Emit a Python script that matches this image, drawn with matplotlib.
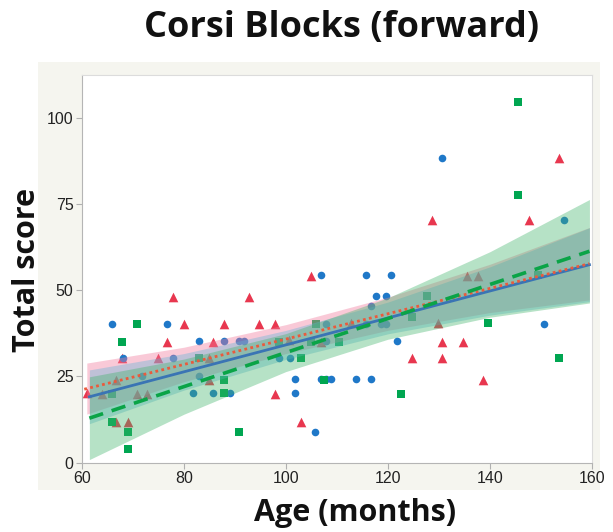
import numpy as np
import matplotlib
matplotlib.use("Agg")
import matplotlib.pyplot as plt
from matplotlib.patches import Rectangle

# ---------------------------------------------------------------------------
# Data
# ---------------------------------------------------------------------------

red_x = [61.0, 63.9, 77.9, 80.0, 76.7, 74.9, 70.9, 72.8, 67.8, 66.8, 66.8, 69.0,
         85.7, 84.9, 84.9, 87.8, 92.8, 94.8, 97.9, 97.9, 100.6, 102.9, 104.9, 106.8,
         135.6, 137.7, 112.7, 129.8, 130.6, 134.8, 124.8, 130.6, 138.7,
         128.7, 147.6, 153.5]
red_y = [20.1, 19.9, 48.1, 40.2, 35.1, 30.3, 19.9, 19.9, 30.3, 24.0, 11.9, 11.9,
         35.1, 30.3, 24.0, 40.2, 48.1, 40.2, 40.2, 19.9, 35.6, 11.9, 54.1, 35.1,
         54.1, 54.1, 40.5, 40.5, 35.1, 35.1, 30.3, 30.3, 24.0,
         70.3, 70.3, 88.2]

blue_x = [65.9, 68.1, 71.9, 76.7, 77.9, 82.9, 82.9, 81.8, 85.8, 87.8, 89.0, 90.9,
          91.9, 98.7, 100.8, 101.8, 101.8, 105.7, 106.8, 107.8, 107.8, 106.8, 107.8,
          108.8, 115.7, 120.7, 117.7, 119.7, 116.7, 115.7, 118.7, 119.7, 121.7,
          150.6, 113.7, 116.7, 130.7, 154.5]
blue_y = [40.2, 30.3, 25.1, 40.2, 30.3, 35.3, 25.1, 20.1, 20.1, 35.3, 20.1, 35.3,
          35.3, 30.3, 30.3, 24.2, 20.1, 9.0, 54.4, 40.2, 35.3, 24.2, 24.2,
          24.2, 54.4, 54.4, 48.3, 48.3, 45.4, 40.2, 40.2, 40.2, 35.3,
          40.2, 24.2, 24.2, 88.4, 70.3]

green_x = [65.9, 65.9, 67.8, 69.0, 69.0, 70.9, 82.9, 87.8, 87.8, 90.9, 98.7, 102.9,
           104.9, 105.9, 107.5, 110.5, 127.6, 124.7, 122.6, 139.7, 153.5, 149.4,
           145.5, 145.5]
green_y = [19.9, 11.9, 35.1, 9.0, 4.0, 40.2, 30.3, 24.0, 20.1, 9.0, 35.1, 30.3,
           35.1, 40.2, 24.0, 35.1, 48.3, 42.1, 19.9, 40.5, 30.3, 54.4,
           104.6, 77.6]

# fitted lines (end points) and confidence band half-widths, as drawn
band_x = [61, 80, 100, 120, 140, 159.5]
red_line = ([60.5, 159.5], [21.3, 57.7])
blue_line = ([61.5, 159.5], [19.1, 57.4])
green_line = ([61.5, 159.5], [12.9, 61.3])
red_hw = [7.4, 5.0, 4.2, 4.8, 7.0, 10.5]
blue_hw = [7.8, 5.3, 4.2, 4.6, 7.0, 10.7]
green_hw = [12.0, 8.0, 5.5, 6.0, 9.5, 15.0]

x_ticks = [60, 80, 100, 120, 140, 160]
y_ticks = [0, 25, 50, 75, 100]

RED = "#e8374f"
BLUE = "#1f78c8"
GREEN = "#00a651"

# ---------------------------------------------------------------------------
# Figure
# ---------------------------------------------------------------------------

fig = plt.figure(figsize=(6.13, 5.32), dpi=100)
fig.patch.set_facecolor("white")
fig.patches.append(Rectangle((0.062, 0.079), 0.917, 0.804, transform=fig.transFigure,
                             facecolor="#f5f5ef", edgecolor="none", zorder=-10))

ax = fig.add_axes([0.1333, 0.1303, 0.8324, 0.7287])
ax.set_facecolor("white")
ax.set_zorder(1)

ax.scatter(red_x, red_y, marker="^", s=48, color=RED, linewidths=0, zorder=2)
ax.scatter(blue_x, blue_y, marker="o", s=30, color=BLUE, linewidths=0, zorder=2)
ax.scatter(green_x, green_y, marker="s", s=40, color=GREEN, linewidths=0, zorder=2)


def band(line, hw, color, alpha):
    lx, ly = line
    bx = np.clip(band_x, lx[0], lx[1])
    centre = np.interp(bx, lx, ly)
    ax.fill_between(bx, centre - np.array(hw), centre + np.array(hw),
                    color=color, alpha=alpha, linewidth=0, zorder=3)


band(red_line, red_hw, "#f27a9c", 0.4)
band(blue_line, blue_hw, "#62b4d8", 0.38)
band(green_line, green_hw, "#3fb36a", 0.38)

ax.plot(*blue_line, color="#3a74b4", lw=2, zorder=4)
ax.plot(*red_line, color="#ea5a3c", lw=2, ls=(0, (1, 1.2)), zorder=5)
ax.plot(*green_line, color="#0aa447", lw=2.6, ls=(0, (4, 2.5)), zorder=5)

ax.set_xlim(60, 160)
ax.set_ylim(0, 112.4)
ax.set_xticks(x_ticks)
ax.set_yticks(y_ticks)
ax.tick_params(length=4, color="#b0b0b0", labelcolor="#222222", labelsize=11.5, pad=2)
for lab in ax.get_xticklabels() + ax.get_yticklabels():
    lab.set_family("Liberation Sans")

for side in ["left", "bottom"]:
    ax.spines[side].set_color("#b5b5b5")
for side in ["top", "right"]:
    ax.spines[side].set_color("#dcdcdc")

fig.text(0.558, 0.947, "Corsi Blocks (forward)", ha="center", va="center",
         fontsize=26, fontweight="bold", family="Open Sans", color="#111111")
fig.text(0.579, 0.036, "Age (months)", ha="center", va="center",
         fontsize=22, fontweight="bold", family="Open Sans", color="#111111")
fig.text(0.044, 0.492, "Total score", ha="center", va="center", rotation=90,
         fontsize=22, fontweight="bold", family="Open Sans", color="#111111")

fig.savefig("out.png", dpi=100)
